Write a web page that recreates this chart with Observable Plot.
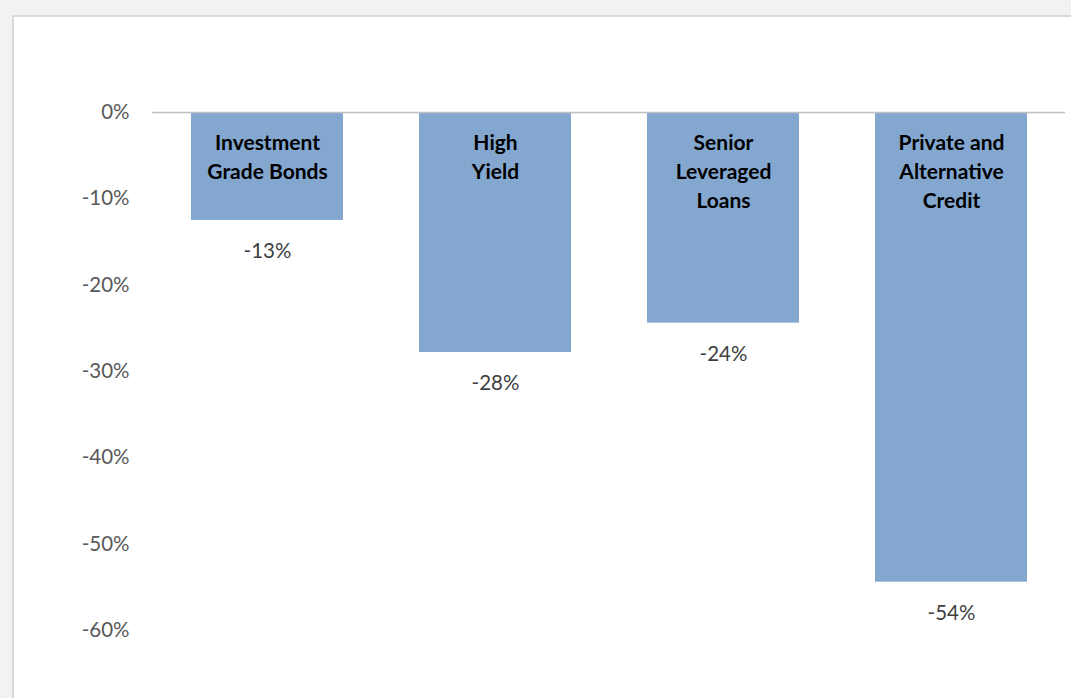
<!DOCTYPE html>
<html>
<head>
<meta charset="utf-8">
<script src="https://cdn.jsdelivr.net/npm/d3@7"></script>
<script src="https://cdn.jsdelivr.net/npm/@observablehq/plot@0.6"></script>
<style>
  html, body { margin: 0; padding: 0; background: #f2f2f2; width: 1071px; height: 698px; overflow: hidden; }
  #panel { position: absolute; left: 12px; top: 15px; width: 1057px; height: 681px; background: #fff;
           border-left: 2px solid #d9d9d9; border-top: 2px solid #d9d9d9; }
  svg { display: block; }
</style>
</head>
<body>
<div id="panel"></div>
<script>
const categories = ["Investment\nGrade Bonds", "High\nYield", "Senior\nLeveraged\nLoans", "Private and\nAlternative\nCredit"];
const values = [-0.125, -0.278, -0.244, -0.544];
const valueLabels = ["-13%", "-28%", "-24%", "-54%"];
const yTicks = [0, -0.1, -0.2, -0.3, -0.4, -0.5, -0.6];

const data = categories.map((c, i) => ({category: c, value: values[i], label: valueLabels[i]}));

const chart = Plot.plot({
  width: 1057,
  height: 681,
  marginTop: 95,
  marginBottom: 68,
  marginLeft: 138,
  marginRight: 6,
  style: {fontFamily: "Lato, 'Open Sans', sans-serif", background: "#fff"},
  x: {domain: categories, paddingInner: 0.334, paddingOuter: 0.167, axis: null},
  y: {domain: [-0.6, 0], ticks: yTicks, tickFormat: d => `${Math.round(d * 100)}%`, tickSize: 0, tickPadding: 23, label: null},
  marks: [
    Plot.axisY({ticks: yTicks, tickFormat: d => `${Math.round(d * 100)}%`, tickSize: 0, tickPadding: 23, label: null,
      fontSize: 20.5, fill: "#595959", textAnchor: "end"}),
    Plot.barY(data, {x: "category", y: "value", fill: "#84a7d0"}),
    Plot.ruleY([0], {stroke: "#c0c0c0", strokeWidth: 1.5}),
    Plot.text(data, {x: "category", y: 0, text: "category", dy: 17, lineAnchor: "top", lineHeight: 1.38,
      fontSize: 21, fontWeight: "bold", fill: "#000"}),
    Plot.text(data, {x: "category", y: "value", text: "label", dy: 31, lineAnchor: "middle",
      fontSize: 20.5, fill: "#404040"})
  ]
});
document.getElementById("panel").appendChild(chart);
</script>
</body>
</html>
